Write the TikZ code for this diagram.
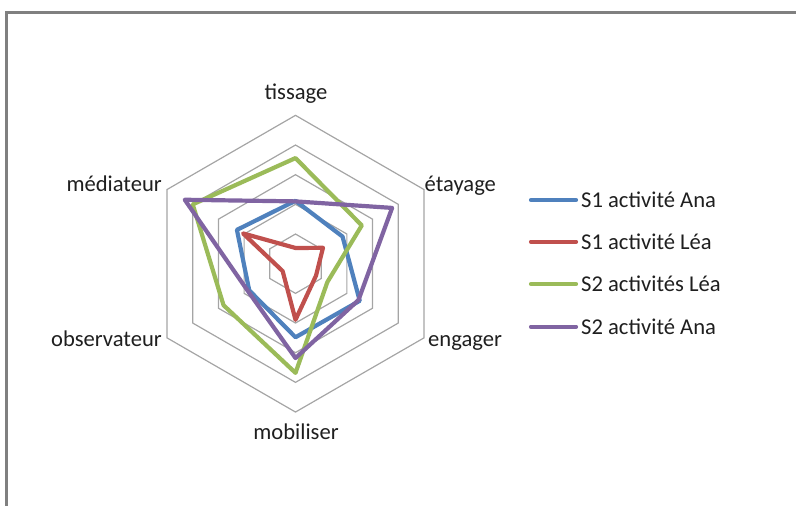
\documentclass[tikz,border=0pt]{standalone}
\usepackage{fontspec}
\setmainfont{Carlito}
\definecolor{framegray}{RGB}{128,128,128}
\definecolor{gridgray}{RGB}{165,165,165}
\definecolor{sblue}{RGB}{79,129,189}
\definecolor{sred}{RGB}{192,80,77}
\definecolor{sgreen}{RGB}{155,187,89}
\definecolor{spurple}{RGB}{128,100,162}
\tikzset{
  gridline/.style={draw=gridgray, line width=1.2pt, line join=miter},
  serie/.style={line width=4.2pt, line join=round, line cap=round},
  lbl/.style={font=\fontsize{22.6}{27}\selectfont, inner sep=0pt, text=black!88},
  legline/.style={line width=4.2pt, line cap=round},
}
\begin{document}
\begin{tikzpicture}[x=1pt,y=1pt]
\useasboundingbox (0,0) rectangle (796,506);
% frame
\coordinate (fTL) at (6.5,493.5);
\coordinate (fTR) at (796,493.5);
\coordinate (fBL) at (6.5,0);
\draw[framegray, line width=2.2pt] (fBL) -- (fTL) -- (fTR);
\def\u{29.67}
\begin{scope}[shift={(295.5,242.3)}]
  \coordinate (O) at (0,0);
  % grid rings
  \foreach \k in {1,...,5}{
    \draw[gridline] (90:{\k*\u}) -- (30:{\k*\u}) -- (-30:{\k*\u}) -- (-90:{\k*\u}) -- (-150:{\k*\u}) -- (150:{\k*\u}) -- cycle;
  }
  % series: tissage, etayage, engager, mobiliser, observateur, mediateur
  \draw[serie, sblue] (90:{2.12*\u}) -- (30:{1.83*\u}) -- (-30:{2.5*\u}) -- (-90:{2.48*\u}) -- (-150:{1.8*\u}) -- (150:{2.28*\u}) -- cycle;
  \draw[serie, sred] (90:{0.53*\u}) -- (30:{1.07*\u}) -- (-30:{0.8*\u}) -- (-90:{1.89*\u}) -- (-150:{0.5*\u}) -- (150:{2.04*\u}) -- cycle;
  \draw[serie, sgreen] (90:{3.56*\u}) -- (30:{2.58*\u}) -- (-30:{1.24*\u}) -- (-90:{3.68*\u}) -- (-150:{2.8*\u}) -- (150:{4.0*\u}) -- cycle;
  \draw[serie, spurple] (90:{2.1*\u}) -- (30:{3.76*\u}) -- (-30:{2.45*\u}) -- (-90:{3.18*\u}) -- (-150:{1.85*\u}) -- (150:{4.31*\u}) -- cycle;
\end{scope}
% axis labels
\node[lbl, anchor=base] (tissage) at (296,406) {tissage};
\node[lbl, anchor=base west] (etayage) at (424.5,314) {étayage};
\node[lbl, anchor=base west] (engager) at (428,159) {engager};
\node[lbl, anchor=base] (mobiliser) at (296,66) {mobiliser};
\node[lbl, anchor=base east] (observateur) at (162,159) {observateur};
\node[lbl, anchor=base east] (mediateur) at (162,314) {médiateur};
% legend
\coordinate (l1a) at (531,306); \coordinate (l1b) at (576,306);
\coordinate (l2a) at (531,264.3); \coordinate (l2b) at (576,264.3);
\coordinate (l3a) at (531,222); \coordinate (l3b) at (576,222);
\coordinate (l4a) at (531,179.3); \coordinate (l4b) at (576,179.3);
\draw[legline, sblue] (l1a) -- (l1b);
\draw[legline, sred] (l2a) -- (l2b);
\draw[legline, sgreen] (l3a) -- (l3b);
\draw[legline, spurple] (l4a) -- (l4b);
\node[lbl, anchor=west] (t1) at (581,306) {S1 activité Ana};
\node[lbl, anchor=west] (t2) at (581,264.3) {S1 activité Léa};
\node[lbl, anchor=west] (t3) at (581,222) {S2 activités Léa};
\node[lbl, anchor=west] (t4) at (581,179.3) {S2 activité Ana};
\end{tikzpicture}
\end{document}
